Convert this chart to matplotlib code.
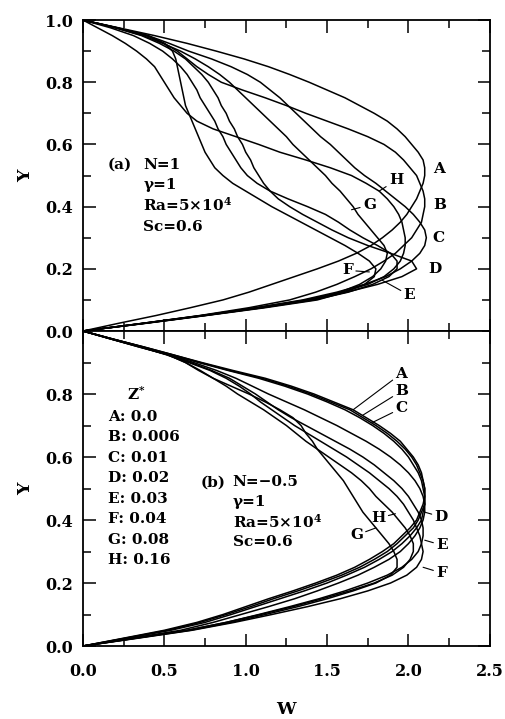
import matplotlib
matplotlib.use("Agg")
import matplotlib.pyplot as plt
from matplotlib.ticker import MultipleLocator, FormatStrFormatter

plt.rcParams['font.family'] = ['DejaVu Serif']
plt.rcParams['font.weight'] = 'bold'
plt.rcParams['mathtext.fontset'] = 'dejavuserif'

# ---------------- data ----------------
# Y positions 0, 0.025, ..., 1.0 (41 values); each curve lists W at these Y
Y_GRID = [0.000, 0.025, 0.050, 0.075, 0.100, 0.125, 0.150, 0.175, 0.200, 0.225,
          0.250, 0.275, 0.300, 0.325, 0.350, 0.375, 0.400, 0.425, 0.450, 0.475,
          0.500, 0.525, 0.550, 0.575, 0.600, 0.625, 0.650, 0.675, 0.700, 0.725,
          0.750, 0.775, 0.800, 0.825, 0.850, 0.875, 0.900, 0.925, 0.950, 0.975, 1.000]
CURVE_NAMES = ['A', 'B', 'C', 'D', 'E', 'F', 'G', 'H']
ZSTAR = ['0.0', '0.006', '0.01', '0.02', '0.03', '0.04', '0.08', '0.16']

# panel (a): N = 1
a_A = [0, .22, .45, .66, .86, 1.02, 1.16, 1.30, 1.44, 1.57, 1.68, 1.77, 1.84, 1.90,
       1.95, 1.99, 2.02, 2.05, 2.07, 2.09, 2.10, 2.10, 2.09, 2.06, 2.02, 1.98, 1.93,
       1.87, 1.79, 1.70, 1.61, 1.50, 1.39, 1.27, 1.14, .99, .82, .64, .44, .22, 0]
a_B = [0, .37, .72, 1.02, 1.27, 1.43, 1.56, 1.67, 1.77, 1.85, 1.92, 1.97, 2.02, 2.05,
       2.08, 2.09, 2.10, 2.10, 2.09, 2.07, 2.05, 2.01, 1.97, 1.92, 1.85, 1.75, 1.63,
       1.50, 1.37, 1.25, 1.12, .98, .85, .77, .70, .64, .58, .50, .39, .21, 0]
a_C = [0, .37, .73, 1.06, 1.35, 1.56, 1.73, 1.86, 1.95, 2.02, 2.07, 2.10, 2.11, 2.10,
       2.07, 2.03, 1.98, 1.92, 1.86, 1.80, 1.73, 1.67, 1.62, 1.57, 1.52, 1.46, 1.41,
       1.36, 1.31, 1.26, 1.21, 1.15, 1.09, 1.01, .91, .79, .65, .53, .40, .21, 0]
a_D = [0, .38, .74, 1.08, 1.40, 1.62, 1.81, 1.96, 2.05, 2.02, 1.89, 1.75, 1.63, 1.53,
       1.44, 1.35, 1.27, 1.20, 1.15, 1.11, 1.08, 1.05, 1.03, 1.00, .98, .95, .93,
       .90, .88, .85, .83, .80, .77, .73, .68, .63, .56, .47, .36, .20, 0]
a_E = [0, .38, .75, 1.10, 1.42, 1.63, 1.78, 1.88, 1.93, 1.93, 1.89, 1.81, 1.72, 1.64,
       1.57, 1.49, 1.38, 1.26, 1.15, 1.07, 1.01, .97, .94, .91, .88, .86, .83,
       .81, .78, .75, .72, .70, .67, .64, .60, .55, .49, .41, .31, .17, 0]
a_F = [0, .39, .76, 1.12, 1.44, 1.61, 1.73, 1.79, 1.80, 1.76, 1.69, 1.61, 1.52, 1.43,
       1.34, 1.25, 1.16, 1.08, 1.00, .92, .86, .81, .78, .75, .73, .71, .69,
       .67, .65, .63, .62, .61, .60, .59, .58, .57, .55, .50, .40, .21, 0]
a_G = [0, .38, .75, 1.10, 1.40, 1.58, 1.70, 1.78, 1.83, 1.86, 1.87, 1.85, 1.81, 1.77,
       1.73, 1.69, 1.66, 1.62, 1.58, 1.53, 1.49, 1.44, 1.39, 1.34, 1.29, 1.25, 1.20,
       1.15, 1.10, 1.05, 1.00, .95, .90, .84, .77, .69, .60, .49, .37, .20, 0]
a_H = [0, .37, .73, 1.07, 1.37, 1.59, 1.75, 1.85, 1.91, 1.95, 1.97, 1.98, 1.98, 1.97,
       1.96, 1.94, 1.91, 1.87, 1.82, 1.74, 1.65, 1.52, 1.37, 1.21, 1.08, .94, .80,
       .70, .64, .60, .56, .53, .50, .47, .44, .39, .33, .26, .18, .09, 0]

# panel (b): N = -0.5
b_A = [0, .25, .50, .70, .86, 1.00, 1.14, 1.29, 1.43, 1.56, 1.67, 1.76, 1.84, 1.91,
       1.96, 2.01, 2.05, 2.07, 2.09, 2.10, 2.10, 2.09, 2.08, 2.06, 2.03, 1.99, 1.95,
       1.89, 1.82, 1.74, 1.66, 1.54, 1.42, 1.28, 1.12, .92, .73, .55, .37, .18, 0]
b_B = [0, .26, .52, .72, .88, 1.03, 1.17, 1.32, 1.46, 1.59, 1.70, 1.79, 1.87, 1.93,
       1.98, 2.03, 2.06, 2.08, 2.10, 2.10, 2.10, 2.09, 2.07, 2.05, 2.02, 1.98, 1.93,
       1.87, 1.80, 1.72, 1.64, 1.52, 1.40, 1.26, 1.10, .90, .72, .55, .37, .18, 0]
b_C = [0, .27, .54, .75, .91, 1.06, 1.21, 1.36, 1.50, 1.62, 1.73, 1.82, 1.90, 1.96,
       2.01, 2.05, 2.08, 2.09, 2.10, 2.10, 2.09, 2.08, 2.06, 2.03, 2.00, 1.96, 1.91,
       1.85, 1.78, 1.70, 1.61, 1.50, 1.38, 1.24, 1.08, .89, .71, .54, .36, .18, 0]
b_D = [0, .30, .60, .80, .97, 1.14, 1.30, 1.44, 1.57, 1.69, 1.79, 1.88, 1.95, 2.00,
       2.04, 2.07, 2.09, 2.10, 2.10, 2.09, 2.07, 2.04, 2.00, 1.95, 1.89, 1.82, 1.74,
       1.65, 1.56, 1.46, 1.36, 1.25, 1.14, 1.04, .94, .82, .68, .53, .36, .18, 0]
b_E = [0, .32, .64, .88, 1.08, 1.27, 1.45, 1.61, 1.75, 1.87, 1.96, 2.02, 2.06, 2.08,
       2.09, 2.09, 2.08, 2.06, 2.03, 2.00, 1.96, 1.91, 1.85, 1.79, 1.72, 1.64, 1.55,
       1.46, 1.37, 1.28, 1.20, 1.13, 1.06, .98, .90, .79, .66, .52, .35, .17, 0]
b_F = [0, .34, .67, .93, 1.16, 1.38, 1.58, 1.75, 1.89, 1.99, 2.05, 2.08, 2.09, 2.08,
       2.07, 2.05, 2.03, 2.00, 1.97, 1.93, 1.88, 1.82, 1.76, 1.69, 1.62, 1.54, 1.46,
       1.38, 1.30, 1.23, 1.16, 1.09, 1.03, .96, .88, .78, .65, .51, .35, .17, 0]
b_G = [0, .33, .66, .91, 1.12, 1.32, 1.50, 1.66, 1.80, 1.89, 1.93, 1.93, 1.91, 1.88,
       1.84, 1.80, 1.76, 1.72, 1.69, 1.66, 1.63, 1.60, 1.56, 1.52, 1.48, 1.44, 1.41,
       1.37, 1.34, 1.29, 1.21, 1.12, 1.02, .91, .80, .71, .63, .52, .34, .17, 0]
b_H = [0, .32, .64, .88, 1.09, 1.29, 1.47, 1.64, 1.79, 1.90, 1.97, 2.01, 2.03, 2.03,
       2.01, 1.98, 1.94, 1.90, 1.85, 1.80, 1.76, 1.71, 1.65, 1.58, 1.51, 1.44, 1.37,
       1.31, 1.25, 1.18, 1.11, 1.03, .95, .88, .80, .72, .63, .52, .34, .17, 0]

X_TICKS = [0.0, 0.5, 1.0, 1.5, 2.0, 2.5]
Y_TICKS_TOP = [0.0, 0.2, 0.4, 0.6, 0.8, 1.0]
Y_TICKS_BOTTOM = [0.0, 0.2, 0.4, 0.6, 0.8]

# ---------------- figure ----------------
fig = plt.figure(figsize=(5.06, 7.19), dpi=100)
ax1 = fig.add_axes([0.164, 0.5396, 0.804, 0.4325])
ax2 = fig.add_axes([0.164, 0.1015, 0.804, 0.4381])

for ax in (ax1, ax2):
    ax.set_xlim(0, 2.5)
    ax.set_ylim(0, 1.0)
    ax.xaxis.set_major_locator(MultipleLocator(0.5))
    ax.xaxis.set_minor_locator(MultipleLocator(0.25))
    ax.yaxis.set_major_locator(MultipleLocator(0.2))
    ax.yaxis.set_minor_locator(MultipleLocator(0.1))
    ax.xaxis.set_major_formatter(FormatStrFormatter('%.1f'))
    ax.yaxis.set_major_formatter(FormatStrFormatter('%.1f'))
    ax.tick_params(which='both', direction='in', top=True, right=True, width=1.1,
                   labelsize=11.5)
    ax.tick_params(which='major', length=9)
    ax.tick_params(which='minor', length=6)
    ax.tick_params(axis='y', pad=7)
    for s in ax.spines.values():
        s.set_linewidth(1.3)
    ax.set_ylabel('Y', fontsize=12.5, fontweight='bold')
    ax.yaxis.set_label_coords(-0.12, 0.5)

ax1.set_yticks(Y_TICKS_TOP)
ax1.tick_params(labelbottom=False)
ax2.set_yticks(Y_TICKS_BOTTOM)
ax2.set_xticks(X_TICKS)
ax2.tick_params(axis='x', pad=12)
ax2.set_xlabel('W', fontsize=12.5, fontweight='bold', labelpad=15)

lw = 1.1
for w in (a_A, a_B, a_C, a_D, a_E, a_F, a_G, a_H):
    ax1.plot(w, Y_GRID, color='black', lw=lw)
for w in (b_A, b_B, b_C, b_D, b_E, b_F, b_G, b_H):
    ax2.plot(w, Y_GRID, color='black', lw=lw)

fs = 11
lead = dict(arrowstyle='-', lw=0.8, color='black', shrinkA=0, shrinkB=0)
# panel (a) labels
for lab, (x, y) in zip(['A', 'B', 'C', 'D'],
                       [(2.15, 0.52), (2.15, 0.405), (2.15, 0.30), (2.12, 0.20)]):
    ax1.text(x, y, lab, fontsize=fs, fontweight='bold', ha='left', va='center')
ax1.annotate('E', xy=(1.84, 0.163), xytext=(1.97, 0.115), fontsize=fs, fontweight='bold',
             ha='left', va='center', arrowprops=lead)
ax1.annotate('F', xy=(1.76, 0.19), xytext=(1.66, 0.195), fontsize=fs, fontweight='bold',
             ha='right', va='center', arrowprops=lead)
ax1.annotate('G', xy=(1.65, 0.39), xytext=(1.72, 0.405), fontsize=fs, fontweight='bold',
             ha='left', va='center', arrowprops=lead)
ax1.annotate('H', xy=(1.82, 0.45), xytext=(1.88, 0.485), fontsize=fs, fontweight='bold',
             ha='left', va='center', arrowprops=lead)

ax1.text(0.15, 0.535, '(a)', fontsize=fs, fontweight='bold', va='center')
ax1.text(0.37, 0.535, 'N=1', fontsize=fs, fontweight='bold', va='center')
ax1.text(0.37, 0.47, 'γ=1', fontsize=fs, fontweight='bold', va='center')
ax1.text(0.37, 0.405, r'Ra=5×10$^{\mathbf{4}}$', fontsize=fs, fontweight='bold', va='center')
ax1.text(0.37, 0.335, 'Sc=0.6', fontsize=fs, fontweight='bold', va='center')

# panel (b) labels
ax2.annotate('A', xy=(1.66, 0.75), xytext=(1.92, 0.865), fontsize=fs, fontweight='bold',
             ha='left', va='center', arrowprops=lead)
ax2.annotate('B', xy=(1.72, 0.733), xytext=(1.92, 0.81), fontsize=fs, fontweight='bold',
             ha='left', va='center', arrowprops=lead)
ax2.annotate('C', xy=(1.78, 0.71), xytext=(1.92, 0.755), fontsize=fs, fontweight='bold',
             ha='left', va='center', arrowprops=lead)
ax2.annotate('D', xy=(2.10, 0.425), xytext=(2.16, 0.41), fontsize=fs, fontweight='bold',
             ha='left', va='center', arrowprops=lead)
ax2.annotate('E', xy=(2.10, 0.336), xytext=(2.17, 0.32), fontsize=fs, fontweight='bold',
             ha='left', va='center', arrowprops=lead)
ax2.annotate('F', xy=(2.09, 0.25), xytext=(2.17, 0.232), fontsize=fs, fontweight='bold',
             ha='left', va='center', arrowprops=lead)
ax2.annotate('G', xy=(1.80, 0.375), xytext=(1.72, 0.352), fontsize=fs, fontweight='bold',
             ha='right', va='center', arrowprops=lead)
ax2.annotate('H', xy=(1.92, 0.42), xytext=(1.86, 0.406), fontsize=fs, fontweight='bold',
             ha='right', va='center', arrowprops=lead)

ax2.text(0.33, 0.80, r'Z$^{\mathbf{*}}$', fontsize=fs, fontweight='bold', ha='center', va='center')
ys = 0.728
for name, z in zip(CURVE_NAMES, ZSTAR):
    ax2.text(0.155, ys, f'{name}: {z}', fontsize=fs, fontweight='bold', va='center')
    ys -= 0.065

ax2.text(0.72, 0.52, '(b)', fontsize=fs, fontweight='bold', va='center')
ax2.text(0.92, 0.52, 'N=−0.5', fontsize=fs, fontweight='bold', va='center')
ax2.text(0.92, 0.457, 'γ=1', fontsize=fs, fontweight='bold', va='center')
ax2.text(0.92, 0.394, r'Ra=5×10$^{\mathbf{4}}$', fontsize=fs, fontweight='bold', va='center')
ax2.text(0.92, 0.33, 'Sc=0.6', fontsize=fs, fontweight='bold', va='center')

fig.savefig('out.png', dpi=100)
